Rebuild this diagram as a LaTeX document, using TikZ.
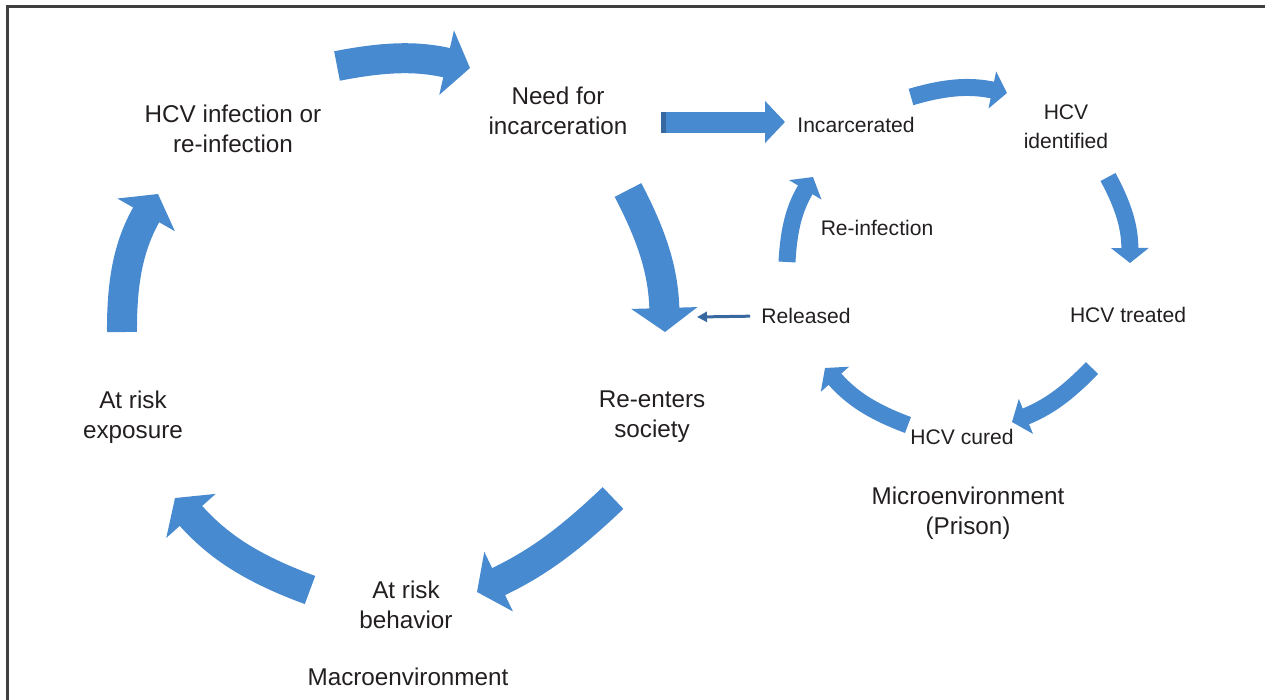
\documentclass[tikz,border=0pt]{standalone}
\usepackage{fontspec}
\setmainfont{Liberation Sans}
\usepackage{xcolor}
\usepackage{tikz}
\usetikzlibrary{arrows.meta}
\definecolor{cycleblue}{RGB}{72,138,208}
\definecolor{cycledark}{RGB}{56,104,160}
\definecolor{labelgrey}{RGB}{35,31,32}

\begin{document}
\begin{tikzpicture}[x=0.02cm,y=-0.02cm,
        biglabel/.style={align=center,inner sep=0pt,text=labelgrey,font=\fontsize{13.8}{17}\selectfont},
        smalllabel/.style={align=center,inner sep=0pt,text=labelgrey,font=\fontsize{12}{16.5}\selectfont},
        macroarrow/.style={cycleblue,line width=0.6cm,-{Triangle[length=0.48cm,width=1.3cm]}},
        microarrow/.style={cycleblue,line width=0.34cm,-{Triangle[length=0.3cm,width=0.74cm]}}]
        \useasboundingbox (0,0) rectangle (1265,700);
        \draw[line width=0.045cm,black!75] (7.5,700) -- (7.5,6.5) -- (1265,6.5);

        \node[biglabel] (infection) at (233,129) {HCV infection or\\re-infection};
        \node[biglabel] (need) at (558,111) {Need for\\incarceration};
        \node[biglabel] (reenters) at (652,417) {Re-enters\\society};
        \node[biglabel] (behavior) at (406,605) {At risk\\behavior};
        \node[biglabel] (exposure) at (133,417) {At risk\\exposure};
        \node[biglabel] (macro) at (408,677) {Macroenvironment};
        \node[biglabel] (micro) at (968,513) {Microenvironment\\(Prison)};

        \node[smalllabel] (incarc) at (856,125) {Incarcerated};
        \node[smalllabel] (identified) at (1066,127) {HCV\\identified};
        \node[smalllabel] (treated) at (1128,315) {HCV treated};
        \node[smalllabel] (cured) at (962,437) {HCV cured};
        \node[smalllabel] (released) at (806,316) {Released};
        \node[smalllabel] (reinf) at (877,228) {Re-infection};

        \coordinate (macro1s) at (337,66);   \coordinate (macro1e) at (470,68);
        \coordinate (macro2s) at (628,190);  \coordinate (macro2e) at (665,332);
        \coordinate (macro3s) at (613,498);  \coordinate (macro3e) at (477,592);
        \coordinate (macro4s) at (310,590);  \coordinate (macro4e) at (175,498);
        \coordinate (macro5s) at (122,332);  \coordinate (macro5e) at (158,194);
        \draw[macroarrow] (macro1s) to[bend left=12] (macro1e);
        \draw[macroarrow] (macro2s) to[bend left=13] (macro2e);
        \draw[macroarrow] (macro3s) to[bend left=9] (macro3e);
        \draw[macroarrow] (macro4s) to[bend left=14] (macro4e);
        \draw[macroarrow] (macro5s) to[bend left=15] (macro5e);

        \coordinate (micro1s) at (911,97);   \coordinate (micro1e) at (1007,93);
        \coordinate (micro2s) at (1108,177); \coordinate (micro2e) at (1130,263);
        \coordinate (micro3s) at (1092,368); \coordinate (micro3e) at (1012,422);
        \coordinate (micro4s) at (908,425);  \coordinate (micro4e) at (825,368);
        \coordinate (micro5s) at (787,262);  \coordinate (micro5e) at (813,177);
        \draw[microarrow] (micro1s) to[bend left=14] (micro1e);
        \draw[microarrow] (micro2s) to[bend left=14] (micro2e);
        \draw[microarrow] (micro3s) to[bend left=12] (micro3e);
        \draw[microarrow] (micro4s) to[bend left=14] (micro4e);
        \draw[microarrow] (micro5s) to[bend left=14] (micro5e);

        \coordinate (blocks) at (661,122);   \coordinate (blocke) at (785,122);
        \draw[cycleblue,line width=0.42cm,-{Triangle[length=0.4cm,width=0.82cm]}] (blocks) -- (blocke);
        \fill[cycledark] (661,111.5) rectangle (666,132.5);

        \coordinate (releasee) at (697,317);
        \draw[cycledark,line width=0.06cm,shorten <=0.22cm,-{Triangle[length=0.2cm,width=0.2cm]}] (released.west) -- (releasee);
\end{tikzpicture}
\end{document}
